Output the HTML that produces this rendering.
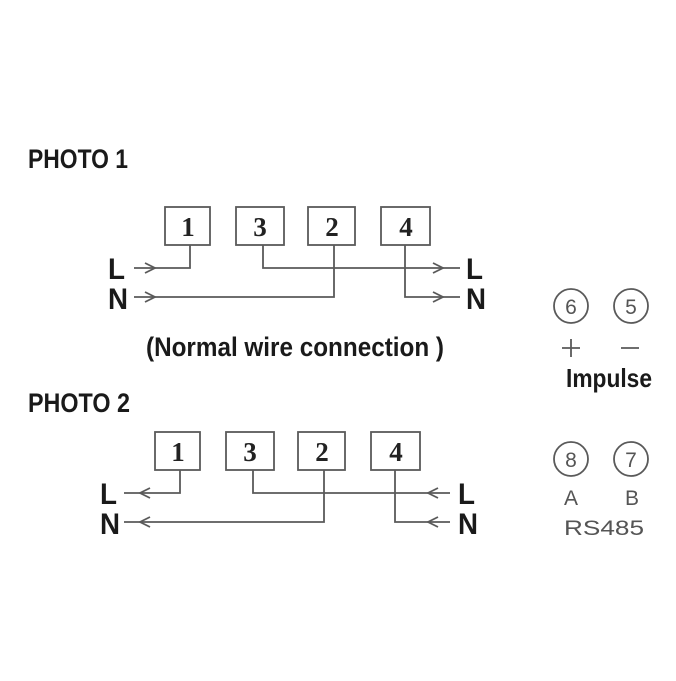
<!DOCTYPE html>
<html><head><style>body{margin:0;background:#fff}</style></head><body>
<svg width="676" height="676" viewBox="0 0 676 676" xmlns="http://www.w3.org/2000/svg">
<rect width="676" height="676" fill="#fff"/>
<g font-family="Liberation Sans, sans-serif" font-weight="bold" fill="#1a1a1a">
<text x="28" y="168" font-size="27" textLength="100" lengthAdjust="spacingAndGlyphs">PHOTO 1</text>
<text x="28" y="412" font-size="27" textLength="102" lengthAdjust="spacingAndGlyphs">PHOTO 2</text>
<text x="146" y="356" font-size="27" textLength="298" lengthAdjust="spacingAndGlyphs">(Normal wire connection )</text>
<text x="566" y="387" font-size="26" textLength="86" lengthAdjust="spacingAndGlyphs">Impulse</text>
<g font-size="30">
<text x="108" y="279" textLength="17" lengthAdjust="spacingAndGlyphs">L</text>
<text x="108" y="309" textLength="20" lengthAdjust="spacingAndGlyphs">N</text>
<text x="466" y="279" textLength="17" lengthAdjust="spacingAndGlyphs">L</text>
<text x="466" y="309" textLength="20" lengthAdjust="spacingAndGlyphs">N</text>
<text x="100" y="504" textLength="17" lengthAdjust="spacingAndGlyphs">L</text>
<text x="100" y="534" textLength="20" lengthAdjust="spacingAndGlyphs">N</text>
<text x="458" y="504" textLength="17" lengthAdjust="spacingAndGlyphs">L</text>
<text x="458" y="534" textLength="20" lengthAdjust="spacingAndGlyphs">N</text>
</g>
</g>
<g fill="none" stroke="#5a5a5a" stroke-width="1.8">
<rect x="165" y="207" width="45" height="38"/><rect x="236" y="207" width="48" height="38"/>
<rect x="308" y="207" width="47" height="38"/><rect x="381" y="207" width="49" height="38"/>
<path d="M134 268H190V245M263 245V268H460M134 297H334V245M405 245V297H460"/>
<path d="M145 263l10 5l-10 5M145 292l10 5l-10 5M433 263l10 5l-10 5M433 292l10 5l-10 5"/>
<rect x="155" y="432" width="45" height="38"/><rect x="226" y="432" width="48" height="38"/>
<rect x="298" y="432" width="47" height="38"/><rect x="371" y="432" width="49" height="38"/>
<path d="M124 493H180V470M253 470V493H450M124 522H324V470M395 470V522H450"/>
<path d="M150 488l-10 5l10 5M150 517l-10 5l10 5M438 488l-10 5l10 5M438 517l-10 5l10 5"/>
<circle cx="571" cy="306" r="17"/><circle cx="631" cy="306" r="17"/>
<circle cx="571" cy="459" r="17"/><circle cx="631" cy="459" r="17"/>
<path d="M562 348h18M571 339v18M621 348h18"/>
</g>
<g font-family="Liberation Serif, serif" font-weight="bold" font-size="27" fill="#222" text-anchor="middle">
<text x="188" y="236">1</text><text x="260" y="236">3</text><text x="332" y="236">2</text><text x="406" y="236">4</text>
<text x="178" y="461">1</text><text x="250" y="461">3</text><text x="322" y="461">2</text><text x="396" y="461">4</text>
</g>
<g font-family="Liberation Sans, sans-serif" font-size="21" fill="#555" text-anchor="middle">
<text x="571" y="314">6</text><text x="631" y="314">5</text>
<text x="571" y="467">8</text><text x="631" y="467">7</text>
<text x="571" y="505">A</text><text x="632" y="505">B</text>
<text x="604" y="535" textLength="80" lengthAdjust="spacingAndGlyphs">RS485</text>
</g>
</svg>
</body></html>
